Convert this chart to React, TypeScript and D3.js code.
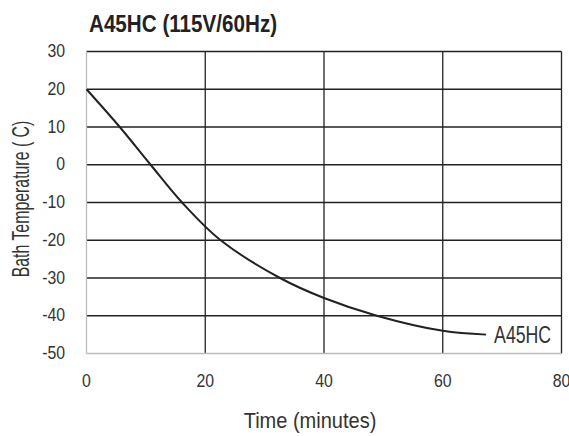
import React from "react";
import * as d3 from "d3";

const timeMin = [0, 5.6, 10.8, 16.1, 22.6, 32.6, 40, 48.9, 60, 67.3];
const bathTemp = [20, 10, 0, -10, -20, -30, -35.3, -40, -44, -45];
const xTicks = [0, 20, 40, 60, 80];
const yTicks = [30, 20, 10, 0, -10, -20, -30, -40, -50];
const seriesName = "A45HC";
const chartTitle = "A45HC (115V/60Hz)";
const xTitle = "Time (minutes)";
const yTitle = "Bath Temperature ( C)";

const W = 569, H = 436;
const left = 86.5, right = 561.5, top = 51.5, bottom = 353.5;
const font = "'Liberation Sans', Arial, sans-serif";
const txt = "#333";

function CText({ x, y, sx = 0.75, rot = 0, anchor = "start", size, weight = "normal", fill = txt, children }: any) {
  return (
    <g transform={`translate(${x},${y}) rotate(${rot}) scale(${sx},1)`}>
      <text textAnchor={anchor} fontFamily={font} fontSize={size} fontWeight={weight} fill={fill}>{children}</text>
    </g>
  );
}

export default function App() {
  const x = d3.scaleLinear().domain([0, 80]).range([left, right]);
  const y = d3.scaleLinear().domain([-50, 30]).range([bottom, top]);
  const pts = timeMin.map((t, i) => [t, bathTemp[i]] as [number, number]);
  const line = d3.line<[number, number]>().x(d => x(d[0])).y(d => y(d[1])).curve(d3.curveCatmullRom.alpha(0.5));
  const last = pts[pts.length - 1];
  return (
    <svg width={W} height={H} style={{ position: "absolute", left: 0, top: 0, background: "#fff" }}>
      <rect width={W} height={H} fill="#fff" />
      {yTicks.filter(v => v !== -50).map(v => (
        <line key={"gy" + v} x1={left} x2={right} y1={y(v)} y2={y(v)} stroke="#222" strokeWidth={1.3} />
      ))}
      {xTicks.filter(v => v !== 0).map(v => (
        <line key={"gx" + v} x1={x(v)} x2={x(v)} y1={top} y2={bottom} stroke="#222" strokeWidth={1.3} />
      ))}
      <line x1={left} x2={left} y1={top} y2={bottom} stroke="#bbb" strokeWidth={1.3} />
      <line x1={left} x2={right} y1={bottom} y2={bottom} stroke="#bbb" strokeWidth={1.3} />
      <path d={line(pts) || ""} fill="none" stroke="#222" strokeWidth={2} />
      <CText x={x(last[0]) + 8} y={y(last[1]) + 8.7} size={23} sx={0.77}>{seriesName}</CText>
      {yTicks.map(v => (
        <CText key={"ty" + v} x={65} y={y(v) + 5.5} anchor="end" size={18} sx={0.88}>{v}</CText>
      ))}
      {xTicks.map(v => (
        <CText key={"tx" + v} x={x(v)} y={387} anchor="middle" size={18} sx={0.88}>{v}</CText>
      ))}
      <CText x={89} y={32} size={24} sx={0.86} weight="bold" fill="#222">{chartTitle}</CText>
      <CText x={310} y={428} anchor="middle" size={22.5} sx={0.89}>{xTitle}</CText>
      <CText x={28.5} y={199} rot={-90} anchor="middle" size={23} sx={0.69}>{yTitle}</CText>
    </svg>
  );
}
